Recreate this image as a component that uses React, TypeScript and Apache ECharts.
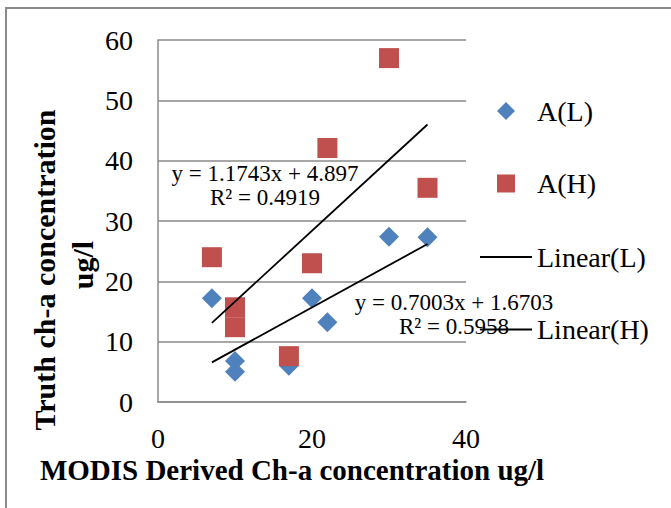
import React, { useEffect, useRef } from "react";
import * as echarts from "echarts";

const xLow = [7, 10, 10, 17, 20, 22, 30, 35];
const yLow = [17.2, 6.8, 5.0, 6.0, 17.2, 13.2, 27.4, 27.3];
const xHigh = [7, 10, 10, 17, 20, 22, 30, 35];
const yHigh = [24.0, 15.7, 12.4, 7.6, 23.0, 42.1, 57.0, 35.5];

// trend-line coefficients as printed on the chart
const slopeL = 0.7003;
const interceptL = 1.6703;
const slopeH = 1.1743;
const interceptH = 4.897;

const xTicks = [0, 20, 40];
const yTicks = [0, 10, 20, 30, 40, 50, 60];

const eqL = ["y = 0.7003x + 1.6703", "R² = 0.5958"];
const eqH = ["y = 1.1743x + 4.897", "R² = 0.4919"];

const FONT = "Liberation Serif";

export default function App() {
  const ref = useRef<HTMLDivElement>(null);
  useEffect(() => {
    document.body.style.margin = "0";
    const chart = echarts.init(ref.current!, null, { renderer: "svg" });
    const trend = (xs: number[], m: number, b: number) => {
      const lo = Math.min(...xs);
      const hi = Math.max(...xs);
      return [
        [lo, m * lo + b],
        [hi, m * hi + b],
      ];
    };
    const gray = "#8a8a8a";
    const legendText = { fontFamily: FONT, fontSize: 28, color: "#000", lineHeight: 30 };
    chart.setOption({
      animation: false,
      backgroundColor: "#ffffff",
      textStyle: { fontFamily: FONT },
      grid: { left: 158, right: 205, top: 40, bottom: 106 },
      xAxis: {
        type: "value",
        min: xTicks[0],
        max: xTicks[xTicks.length - 1],
        interval: 20,
        axisLine: { show: true, lineStyle: { color: gray, width: 1.5 } },
        axisTick: { show: false },
        splitLine: { show: false },
        axisLabel: { fontFamily: FONT, fontSize: 28, color: "#000", margin: 22 },
      },
      yAxis: {
        type: "value",
        min: yTicks[0],
        max: yTicks[yTicks.length - 1],
        interval: 10,
        axisLine: { show: true, lineStyle: { color: gray, width: 1.5 } },
        axisTick: { show: false },
        splitLine: { show: true, lineStyle: { color: gray, width: 1.5 } },
        axisLabel: { fontFamily: FONT, fontSize: 28, color: "#000", margin: 25 },
      },
      legend: [
        {
          orient: "vertical",
          left: 497,
          top: 96,
          padding: 0,
          itemWidth: 18,
          itemHeight: 18,
          itemGap: 42.5,
          textStyle: { ...legendText, padding: [0, 0, 0, 17] },
          data: ["A(L)", "A(H)"],
        },
        {
          orient: "vertical",
          left: 480,
          top: 242,
          padding: 0,
          itemWidth: 52,
          itemHeight: 2,
          itemGap: 42.5,
          icon: "rect",
          textStyle: legendText,
          data: ["Linear(L)", "Linear(H)"],
        },
      ],
      series: [
        {
          name: "A(L)",
          type: "scatter",
          symbol: "diamond",
          symbolSize: 20,
          symbolKeepAspect: true,
          itemStyle: { color: "#4F81BD", opacity: 1 },
          data: xLow.map((x, i) => [x, yLow[i]]),
          z: 2,
        },
        {
          name: "A(H)",
          type: "scatter",
          symbol: "rect",
          symbolSize: 20,
          symbolKeepAspect: true,
          itemStyle: { color: "#C0504D", opacity: 1 },
          data: xHigh.map((x, i) => [x, yHigh[i]]),
          z: 3,
        },
        {
          name: "Linear(L)",
          type: "line",
          symbol: "none",
          lineStyle: { color: "#000", width: 1.8 },
          itemStyle: { color: "#000" },
          data: trend(xLow, slopeL, interceptL),
          z: 4,
        },
        {
          name: "Linear(H)",
          type: "line",
          symbol: "none",
          lineStyle: { color: "#000", width: 1.8 },
          itemStyle: { color: "#000" },
          data: trend(xHigh, slopeH, interceptH),
          z: 4,
        },
      ],
      graphic: [
        {
          type: "rect",
          shape: { x: 6, y: 8, width: 700, height: 540 },
          style: { fill: "none", stroke: gray, lineWidth: 2 },
          silent: true,
          z: -10,
        },
        {
          type: "text",
          x: 265,
          y: 185,
          style: {
            text: eqH.join("\n"),
            font: `23px "${FONT}"`,
            fill: "#000",
            align: "center",
            verticalAlign: "middle",
            lineHeight: 24,
          },
          z: 5,
        },
        {
          type: "text",
          x: 454,
          y: 314,
          style: {
            text: eqL.join("\n"),
            font: `23px "${FONT}"`,
            fill: "#000",
            align: "center",
            verticalAlign: "middle",
            lineHeight: 24,
          },
          z: 5,
        },
        {
          type: "text",
          x: 292,
          y: 470,
          style: {
            text: "MODIS Derived Ch-a concentration ug/l",
            font: `bold 29px "${FONT}"`,
            fill: "#000",
            align: "center",
            verticalAlign: "middle",
          },
        },
        {
          type: "text",
          x: 44,
          y: 270,
          rotation: Math.PI / 2,
          style: {
            text: "Truth ch-a concentration",
            font: `bold 30px "${FONT}"`,
            fill: "#000",
            align: "center",
            verticalAlign: "middle",
          },
        },
        {
          type: "text",
          x: 82,
          y: 265,
          rotation: Math.PI / 2,
          style: {
            text: "ug/l",
            font: `bold 30px "${FONT}"`,
            fill: "#000",
            align: "center",
            verticalAlign: "middle",
          },
        },
      ],
    });
    return () => chart.dispose();
  }, []);
  return <div ref={ref} style={{ width: 671, height: 508 }} />;
}
